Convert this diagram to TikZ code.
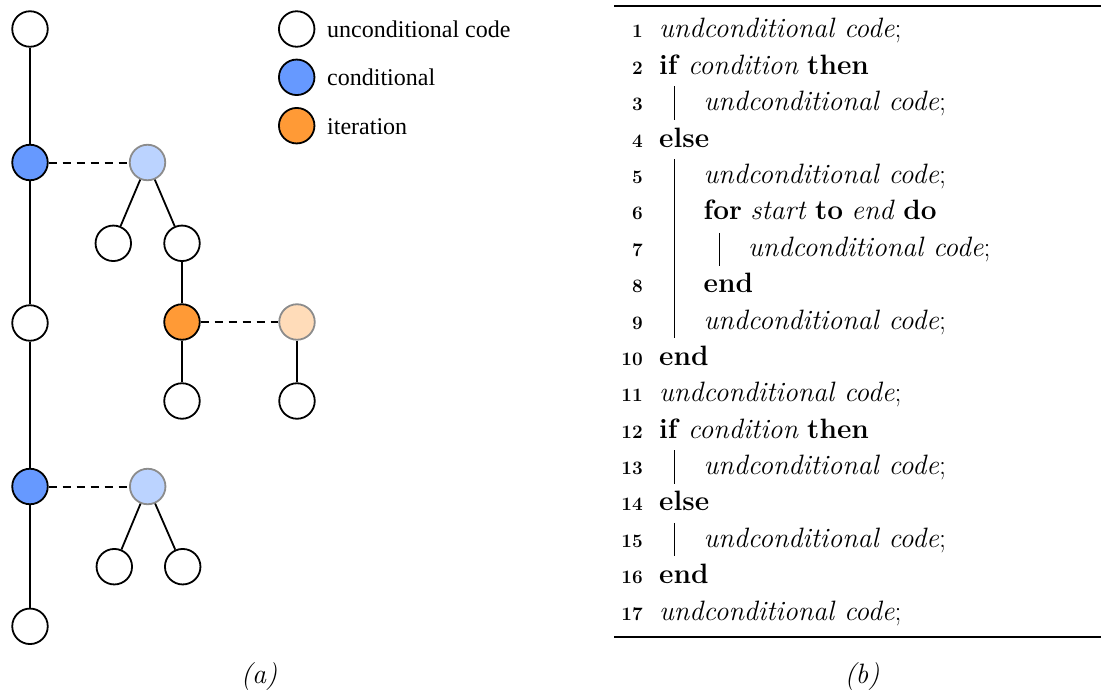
\documentclass[tikz,border=0pt]{standalone}
\usepackage{fontspec}
\newfontfamily\legendfont{Liberation Serif}
\definecolor{condblue}{HTML}{6699FF}
\definecolor{condpale}{HTML}{BBD3FF}
\definecolor{iterorange}{HTML}{FF9A36}
\definecolor{iterpale}{HTML}{FFDCB9}
\definecolor{palerim}{HTML}{8C8C8C}
\tikzset{
  vertex/.style={circle, draw=black, line width=1.8pt, minimum size=35.5pt, inner sep=0pt, fill=white},
  plain/.style={vertex},
  cond/.style={vertex, fill=condblue},
  condghost/.style={vertex, draw=palerim, fill=condpale},
  iter/.style={vertex, fill=iterorange},
  iterghost/.style={vertex, draw=palerim, fill=iterpale},
  edge/.style={line width=1.8pt},
  alt/.style={line width=2pt, dash pattern=on 8pt off 6pt},
  keytext/.style={anchor=base west, inner sep=0pt, font=\legendfont\fontsize{24}{28}\selectfont},
  codeline/.style={anchor=base west, inner sep=0pt, font=\fontsize{28}{32}\selectfont},
  lnum/.style={anchor=base east, inner sep=0pt, font=\fontsize{19}{21}\selectfont\bfseries},
  caption/.style={inner sep=0pt, font=\fontsize{28}{32}\selectfont\itshape},
  rule/.style={line width=2pt},
  blockbar/.style={line width=0.9pt}
}
\begin{document}
\begin{tikzpicture}[x=1pt, y=-1pt]
\useasboundingbox (0,0) rectangle (1101,693);

% ---- tree of code blocks ----
\node[plain] (u1) at (30,29) {};
\node[cond] (c1) at (30,162.5) {};
\node[condghost] (g1) at (147.5,162.5) {};
\node[plain] (u2) at (113.3,243.3) {};
\node[plain] (u3) at (182,243.3) {};
\node[plain] (u4) at (30,323) {};
\node[iter] (i1) at (182,322) {};
\node[iterghost] (g2) at (297,322) {};
\node[plain] (u5) at (182,401) {};
\node[plain] (u6) at (297,401) {};
\node[cond] (c2) at (30,486.5) {};
\node[condghost] (g3) at (147.7,486.5) {};
\node[plain] (u7) at (114.3,566.7) {};
\node[plain] (u8) at (182.7,566.7) {};
\node[plain] (u9) at (30,626.3) {};

\draw[edge] (u1) -- (c1);
\draw[edge] (c1) -- (u4);
\draw[edge] (u4) -- (c2);
\draw[edge] (c2) -- (u9);
\draw[edge] (g1) -- (u2);
\draw[edge] (g1) -- (u3);
\draw[edge] (u3) -- (i1);
\draw[edge] (i1) -- (u5);
\draw[edge] (g2) -- (u6);
\draw[edge] (g3) -- (u7);
\draw[edge] (g3) -- (u8);
\draw[alt] (c1) -- (g1);
\draw[alt] (i1) -- (g2);
\draw[alt] (c2) -- (g3);

% ---- legend ----
\node[plain] (k1) at (296.7,29) {};
\node[cond] (k2) at (296.7,77.3) {};
\node[iter] (k3) at (296.7,125.7) {};
\node[keytext] (t1) at (327,37.3) {unconditional code};
\node[keytext] (t2) at (327,85.6) {conditional};
\node[keytext] (t3) at (327,134) {iteration};

\node[caption] (capa) at (259,677) {(a)};

% ---- algorithm listing ----
\coordinate (rtopL) at (614,6);
\coordinate (rtopR) at (1101,6);
\coordinate (rbotL) at (614,637);
\coordinate (rbotR) at (1101,637);
\draw[rule] (rtopL) -- (rtopR);
\draw[rule] (rbotL) -- (rbotR);

\foreach \k/\ind/\txt in {
  1/0/{\textit{undconditional code};},
  2/0/{\textbf{if} \textit{condition} \textbf{then}},
  3/1/{\textit{undconditional code};},
  4/0/{\textbf{else}},
  5/1/{\textit{undconditional code};},
  6/1/{\textbf{for} \textit{start} \textbf{to} \textit{end} \textbf{do}},
  7/2/{\textit{undconditional code};},
  8/1/{\textbf{end}},
  9/1/{\textit{undconditional code};},
  10/0/{\textbf{end}},
  11/0/{\textit{undconditional code};},
  12/0/{\textbf{if} \textit{condition} \textbf{then}},
  13/1/{\textit{undconditional code};},
  14/0/{\textbf{else}},
  15/1/{\textit{undconditional code};},
  16/0/{\textbf{end}},
  17/0/{\textit{undconditional code};}}
{
  \pgfmathsetmacro{\yb}{38+36.375*(\k-1)}
  \pgfmathsetmacro{\xt}{659+44.5*\ind}
  \node[lnum] (num\k) at (643,\yb) {\k};
  \node[codeline] (line\k) at (\xt,\yb) {\txt};
}

% block bars
\draw[blockbar] ([yshift=-12pt]line2.base -| 674,0) -- ([yshift=-9pt]line3.base -| 674,0);
\draw[blockbar] ([yshift=-12pt]line4.base -| 674,0) -- ([yshift=-9pt]line9.base -| 674,0);
\draw[blockbar] ([yshift=-13pt]line6.base -| 719,0) -- ([yshift=-10pt]line7.base -| 719,0);
\draw[blockbar] ([yshift=-12pt]line12.base -| 674,0) -- ([yshift=-9pt]line13.base -| 674,0);
\draw[blockbar] ([yshift=-12pt]line14.base -| 674,0) -- ([yshift=-9pt]line15.base -| 674,0);

\node[caption] (capb) at (862,677) {(b)};
\end{tikzpicture}
\end{document}
